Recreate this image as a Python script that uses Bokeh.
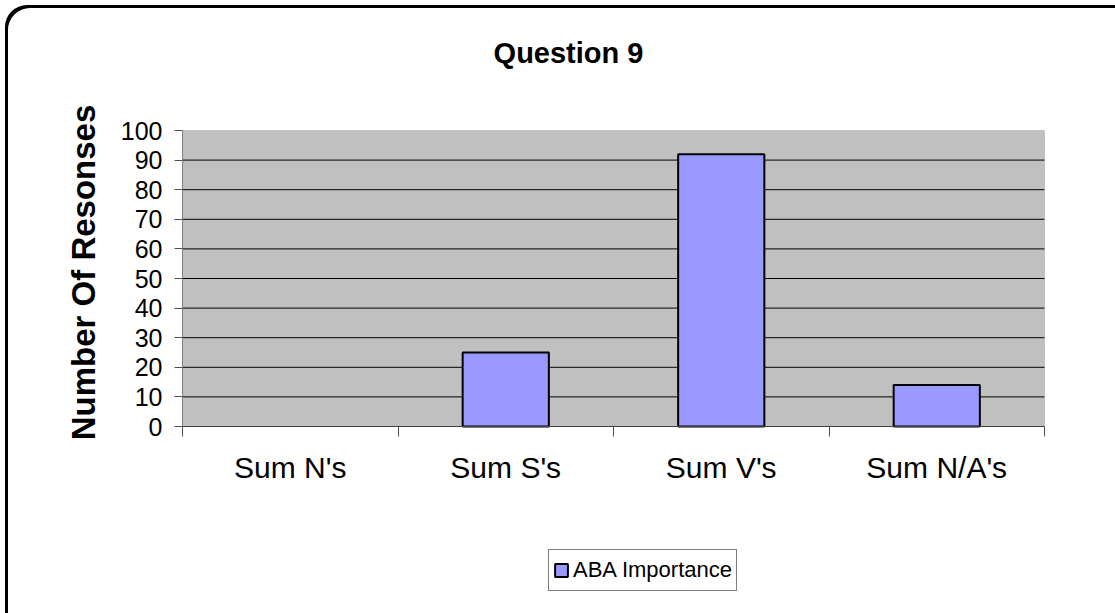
import numpy as np
from bokeh.plotting import figure
from bokeh.models import (Range1d, FixedTicker, Legend, LegendItem, Label,
                          ColumnDataSource, BoxAnnotation)
from bokeh.embed import file_html
from bokeh.resources import INLINE

# ---- data ----
categories = ["Sum N's", "Sum S's", "Sum V's", "Sum N/A's"]
values = [0, 25, 92, 14]
series_name = "ABA Importance"
y_ticks = [0, 10, 20, 30, 40, 50, 60, 70, 80, 90, 100]
title_text = "Question 9"
y_label = "Number Of Resonses"

FONT = "Liberation Sans"
OX, OY = 5, 5                      # page offset of the canvas (via margin)
W, H = 1115 - OX, 613 - OY
PAGE_B = OY + H
FL, FR, FT, FB = 182, 1044, 130, 426   # plot-area edges on the page

n = len(categories)
centers = [i + 0.5 for i in range(n)]
bounds = list(range(n + 1))
y0, y1 = y_ticks[0], y_ticks[-1]
kx = (FR - FL) / n
ky = (FB - FT) / (y1 - y0)

# frame covers the whole canvas; ranges chosen so that the grey plot area
# lands where the reference has it
p = figure(width=W, height=H, output_backend="svg", toolbar_location=None,
           x_range=Range1d(0 - (FL - OX) / kx, n + (OX + W - FR) / kx),
           y_range=Range1d(y0 - (PAGE_B - FB) / ky, y1 + (FT - OY) / ky),
           min_border=0, min_border_left=0, min_border_right=0,
           min_border_top=0, min_border_bottom=0)
p.margin = (OY, 0, 0, OX)
p.background_fill_color = None
p.border_fill_color = None
p.outline_line_color = None
p.styles = {"box-shadow": "inset 3px 3px 0 0 black",
            "border-top-left-radius": "22px"}

# plot area (grey box between 0 and 100)
p.add_layout(BoxAnnotation(left=0, right=n, bottom=y0, top=y1,
                           fill_color="#C0C0C0", fill_alpha=1,
                           line_color="#808080", line_width=1,
                           level="image"))

# grid lines (inside the plot area only)
p.xgrid.visible = False
p.ygrid.visible = False
inner = y_ticks[1:-1]
p.segment(x0=[0] * len(inner), x1=[n] * len(inner), y0=inner, y1=inner,
          line_color="black", line_width=1)

# y axis, fixed at x = 0
ya = p.yaxis[0]
ya.fixed_location = 0
ya.ticker = FixedTicker(ticks=y_ticks)
ya.bounds = (y0, y1)
ya.minor_tick_line_color = None
ya.major_tick_in = 0
ya.major_tick_out = 8
ya.major_tick_line_color = "#505050"
ya.axis_line_color = "#808080"
ya.major_label_text_font = FONT
ya.major_label_text_font_size = "25px"
ya.major_label_text_color = "black"
ya.major_label_standoff = 12

# x axis, fixed at value 0
xa = p.xaxis[0]
xa.fixed_location = y0
xa.ticker = FixedTicker(ticks=centers, minor_ticks=bounds)
xa.bounds = (0, n)
xa.major_label_overrides = {c: lab for c, lab in zip(centers, categories)}
xa.major_tick_in = 0
xa.major_tick_out = 0
xa.minor_tick_in = 0
xa.minor_tick_out = 10
xa.minor_tick_line_color = "#505050"
xa.axis_line_color = "#404040"
xa.major_label_text_font = FONT
xa.major_label_text_font_size = "30px"
xa.major_label_text_color = "black"
xa.major_label_standoff = 14

# bars
src = ColumnDataSource(dict(x=centers, top=values, cat=categories,
                            la=[1.0 if v > 0 else 0.0 for v in values]))
r = p.vbar(x="x", top="top", bottom=y0, width=0.4, source=src,
           fill_color="#9999FF", line_color="black", line_width=2,
           line_alpha="la")

# title and y-axis title
p.add_layout(Label(x=568 - OX, y=PAGE_B - 52, x_units="screen",
                   y_units="screen", text=title_text, text_align="center",
                   text_baseline="alphabetic", text_font=FONT,
                   text_font_size="29px", text_font_style="bold",
                   text_color="black"))
p.add_layout(Label(x=82.5 - OX, y=PAGE_B - 272, x_units="screen",
                   y_units="screen", text=y_label, angle=np.pi / 2,
                   text_align="center", text_baseline="alphabetic",
                   text_font=FONT, text_font_size="33px",
                   text_font_style="bold", text_color="black"))

# legend (sample taken from a bar that has an outline)
leg_index = values.index(max(values))
leg = Legend(items=[LegendItem(label=series_name, renderers=[r],
                               index=leg_index)],
             location=(548 - OX, PAGE_B - 591), orientation="horizontal",
             label_text_font=FONT, label_text_font_size="22px",
             label_text_color="black", glyph_width=16, glyph_height=16,
             label_standoff=4, label_height=32, padding=4, spacing=0,
             margin=0, border_line_color="black", border_line_width=1,
             background_fill_color="white", background_fill_alpha=1)
p.add_layout(leg)

open("out.html", "w").write(file_html(p, INLINE))
